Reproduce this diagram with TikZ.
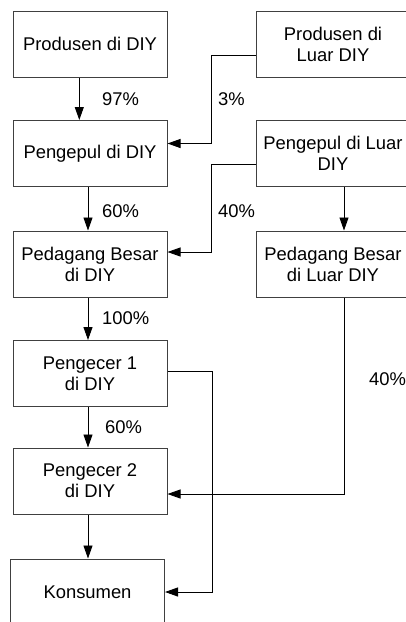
\documentclass[tikz,border=0pt]{standalone}
\usepackage{fontspec}
\setmainfont{Liberation Sans}
\usetikzlibrary{arrows.meta}

\begin{document}
\begin{tikzpicture}[x=1pt,y=-1pt,
    font=\fontsize{18.4}{21}\selectfont,
    box/.style={draw=black!75,line width=1pt,minimum width=154pt,minimum height=66pt,align=center,inner sep=0pt},
    flow/.style={line width=0.9pt,-{Triangle[length=13pt,width=9pt]}},
    pct/.style={anchor=west,inner sep=0pt}]
    \useasboundingbox (0,0) rectangle (406,622);
    \clip (0,0) rectangle (406,622);

    % Boxes in DIY (left column)
    \node[box] (prodDIY) at (90,44) {Produsen di DIY};
    \node[box] (pengDIY) at (90,153.5) {Pengepul di DIY};
    \node[box] (pbDIY) at (90,264) {Pedagang Besar\\di DIY};
    \node[box] (pc1) at (90,373.5) {Pengecer 1\\di DIY};
    \node[box] (pc2) at (90,481) {Pengecer 2\\di DIY};
    \node[box] (kons) at (87.5,592) {Konsumen};

    % Boxes outside DIY (right column, cut at the edge)
    \node[box] (prodLuar) at (333,44) {Produsen di\\Luar DIY};
    \node[box] (pengLuar) at (333,153.5) {Pengepul di Luar\\DIY};
    \node[box] (pbLuar) at (333,264) {Pedagang Besar\\di Luar DIY};

    % Flows down the DIY chain
    \draw[flow] ([xshift=-10.7pt]prodDIY.south) -- ([xshift=-10.7pt]pengDIY.north);
    \foreach \a/\b in {pengDIY/pbDIY, pbDIY/pc1, pc1/pc2, pc2/kons} {
        \draw[flow] ([xshift=-2pt]\a.south) -- (88,0 |- \b.north);
    }

    % Flows coming in from outside
    \draw[flow] ([yshift=-11pt]prodLuar.west) -- ++(-44,0) |- ([yshift=10pt]pengDIY.east);
    \draw[flow] ([yshift=-10.5pt]pengLuar.west) -- ++(-44,0) |- ([yshift=12pt]pbDIY.east);
    \draw[flow] ([xshift=11pt]pengLuar.south) -- ([xshift=11pt]pbLuar.north);
    \draw[flow] ([xshift=11pt]pbLuar.south) |- ([yshift=-13pt]pc2.east);
    \draw[flow] ([yshift=2.5pt]pc1.east) -- ++(45,0) |- (kons.east);

    % Shares
    \node[pct] (p97) at (102,99) {97\%};
    \node[pct] (p3) at (218,99) {3\%};
    \node[pct] (p60a) at (102,211) {60\%};
    \node[pct] (p40a) at (218,211) {40\%};
    \node[pct] (p100) at (102,318) {100\%};
    \node[pct] (p60b) at (105,427) {60\%};
    \node[pct] (p40b) at (369,379) {40\%};

\end{tikzpicture}
\end{document}
